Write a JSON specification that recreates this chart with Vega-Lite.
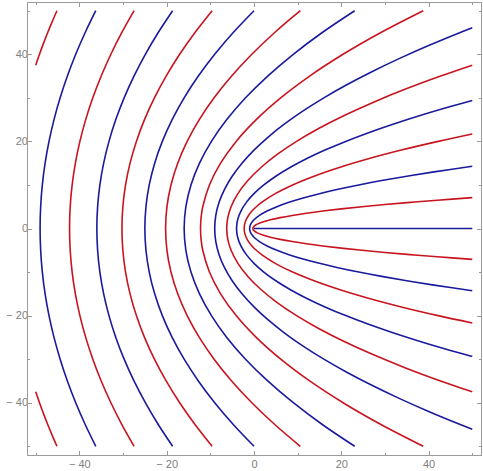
{
"$schema": "https://vega.github.io/schema/vega-lite/v6.json",
"width": 454, "height": 453,
"autosize": {"type": "none"},
"padding": {"left": 27, "top": 2, "right": 2, "bottom": 16},
"data": {"values": [
{"c":"b0","k":"b","x":0,"y":0},{"c":"b0","k":"b","x":50,"y":0},
{"c":"r05","k":"r","x":50,"y":-7.089},{"c":"r05","k":"r","x":42,"y":-6.5},{"c":"r05","k":"r","x":35.75,"y":-6},{"c":"r05","k":"r","x":30,"y":-5.5},{"c":"r05","k":"r","x":24.75,"y":-5},{"c":"r05","k":"r","x":20,"y":-4.5},{"c":"r05","k":"r","x":15.75,"y":-4},{"c":"r05","k":"r","x":12,"y":-3.5},{"c":"r05","k":"r","x":8.75,"y":-3},{"c":"r05","k":"r","x":6,"y":-2.5},{"c":"r05","k":"r","x":3.75,"y":-2},{"c":"r05","k":"r","x":2,"y":-1.5},{"c":"r05","k":"r","x":0.75,"y":-1},{"c":"r05","k":"r","x":0.3125,"y":-0.75},{"c":"r05","k":"r","x":0,"y":-0.5},{"c":"r05","k":"r","x":-0.1875,"y":-0.25},{"c":"r05","k":"r","x":-0.25,"y":0},{"c":"r05","k":"r","x":-0.1875,"y":0.25},{"c":"r05","k":"r","x":0,"y":0.5},{"c":"r05","k":"r","x":0.3125,"y":0.75},{"c":"r05","k":"r","x":0.75,"y":1},{"c":"r05","k":"r","x":2,"y":1.5},{"c":"r05","k":"r","x":3.75,"y":2},{"c":"r05","k":"r","x":6,"y":2.5},{"c":"r05","k":"r","x":8.75,"y":3},{"c":"r05","k":"r","x":12,"y":3.5},{"c":"r05","k":"r","x":15.75,"y":4},{"c":"r05","k":"r","x":20,"y":4.5},{"c":"r05","k":"r","x":24.75,"y":5},{"c":"r05","k":"r","x":30,"y":5.5},{"c":"r05","k":"r","x":35.75,"y":6},{"c":"r05","k":"r","x":42,"y":6.5},{"c":"r05","k":"r","x":50,"y":7.089},
{"c":"b1","k":"b","x":50,"y":-14.283},{"c":"b1","k":"b","x":41.25,"y":-13},{"c":"b1","k":"b","x":35,"y":-12},{"c":"b1","k":"b","x":29.25,"y":-11},{"c":"b1","k":"b","x":24,"y":-10},{"c":"b1","k":"b","x":19.25,"y":-9},{"c":"b1","k":"b","x":15,"y":-8},{"c":"b1","k":"b","x":11.25,"y":-7},{"c":"b1","k":"b","x":8,"y":-6},{"c":"b1","k":"b","x":5.25,"y":-5},{"c":"b1","k":"b","x":3,"y":-4},{"c":"b1","k":"b","x":1.25,"y":-3},{"c":"b1","k":"b","x":0,"y":-2},{"c":"b1","k":"b","x":-0.4375,"y":-1.5},{"c":"b1","k":"b","x":-0.75,"y":-1},{"c":"b1","k":"b","x":-0.9375,"y":-0.5},{"c":"b1","k":"b","x":-1,"y":0},{"c":"b1","k":"b","x":-0.9375,"y":0.5},{"c":"b1","k":"b","x":-0.75,"y":1},{"c":"b1","k":"b","x":-0.4375,"y":1.5},{"c":"b1","k":"b","x":0,"y":2},{"c":"b1","k":"b","x":1.25,"y":3},{"c":"b1","k":"b","x":3,"y":4},{"c":"b1","k":"b","x":5.25,"y":5},{"c":"b1","k":"b","x":8,"y":6},{"c":"b1","k":"b","x":11.25,"y":7},{"c":"b1","k":"b","x":15,"y":8},{"c":"b1","k":"b","x":19.25,"y":9},{"c":"b1","k":"b","x":24,"y":10},{"c":"b1","k":"b","x":29.25,"y":11},{"c":"b1","k":"b","x":35,"y":12},{"c":"b1","k":"b","x":41.25,"y":13},{"c":"b1","k":"b","x":50,"y":14.283},
{"c":"r15","k":"r","x":50,"y":-21.685},{"c":"r15","k":"r","x":42.194,"y":-20},{"c":"r15","k":"r","x":33.75,"y":-18},{"c":"r15","k":"r","x":26.194,"y":-16},{"c":"r15","k":"r","x":19.528,"y":-14},{"c":"r15","k":"r","x":13.75,"y":-12},{"c":"r15","k":"r","x":8.861,"y":-10},{"c":"r15","k":"r","x":4.861,"y":-8},{"c":"r15","k":"r","x":1.75,"y":-6},{"c":"r15","k":"r","x":0.528,"y":-5},{"c":"r15","k":"r","x":-0.472,"y":-4},{"c":"r15","k":"r","x":-1.25,"y":-3},{"c":"r15","k":"r","x":-1.806,"y":-2},{"c":"r15","k":"r","x":-2.139,"y":-1},{"c":"r15","k":"r","x":-2.25,"y":0},{"c":"r15","k":"r","x":-2.139,"y":1},{"c":"r15","k":"r","x":-1.806,"y":2},{"c":"r15","k":"r","x":-1.25,"y":3},{"c":"r15","k":"r","x":-0.472,"y":4},{"c":"r15","k":"r","x":0.528,"y":5},{"c":"r15","k":"r","x":1.75,"y":6},{"c":"r15","k":"r","x":4.861,"y":8},{"c":"r15","k":"r","x":8.861,"y":10},{"c":"r15","k":"r","x":13.75,"y":12},{"c":"r15","k":"r","x":19.528,"y":14},{"c":"r15","k":"r","x":26.194,"y":16},{"c":"r15","k":"r","x":33.75,"y":18},{"c":"r15","k":"r","x":42.194,"y":20},{"c":"r15","k":"r","x":50,"y":21.685},
{"c":"b2","k":"b","x":50,"y":-29.394},{"c":"b2","k":"b","x":45,"y":-28},{"c":"b2","k":"b","x":38.25,"y":-26},{"c":"b2","k":"b","x":32,"y":-24},{"c":"b2","k":"b","x":26.25,"y":-22},{"c":"b2","k":"b","x":21,"y":-20},{"c":"b2","k":"b","x":16.25,"y":-18},{"c":"b2","k":"b","x":12,"y":-16},{"c":"b2","k":"b","x":8.25,"y":-14},{"c":"b2","k":"b","x":5,"y":-12},{"c":"b2","k":"b","x":2.25,"y":-10},{"c":"b2","k":"b","x":0,"y":-8},{"c":"b2","k":"b","x":-1.75,"y":-6},{"c":"b2","k":"b","x":-3,"y":-4},{"c":"b2","k":"b","x":-3.75,"y":-2},{"c":"b2","k":"b","x":-4,"y":0},{"c":"b2","k":"b","x":-3.75,"y":2},{"c":"b2","k":"b","x":-3,"y":4},{"c":"b2","k":"b","x":-1.75,"y":6},{"c":"b2","k":"b","x":0,"y":8},{"c":"b2","k":"b","x":2.25,"y":10},{"c":"b2","k":"b","x":5,"y":12},{"c":"b2","k":"b","x":8.25,"y":14},{"c":"b2","k":"b","x":12,"y":16},{"c":"b2","k":"b","x":16.25,"y":18},{"c":"b2","k":"b","x":21,"y":20},{"c":"b2","k":"b","x":26.25,"y":22},{"c":"b2","k":"b","x":32,"y":24},{"c":"b2","k":"b","x":38.25,"y":26},{"c":"b2","k":"b","x":45,"y":28},{"c":"b2","k":"b","x":50,"y":29.394},
{"c":"r25","k":"r","x":50,"y":-37.5},{"c":"r25","k":"r","x":42.75,"y":-35},{"c":"r25","k":"r","x":34.71,"y":-32},{"c":"r25","k":"r","x":27.39,"y":-29},{"c":"r25","k":"r","x":20.79,"y":-26},{"c":"r25","k":"r","x":14.91,"y":-23},{"c":"r25","k":"r","x":9.75,"y":-20},{"c":"r25","k":"r","x":5.31,"y":-17},{"c":"r25","k":"r","x":1.59,"y":-14},{"c":"r25","k":"r","x":-1.41,"y":-11},{"c":"r25","k":"r","x":-3.69,"y":-8},{"c":"r25","k":"r","x":-5.25,"y":-5},{"c":"r25","k":"r","x":-6,"y":-2.5},{"c":"r25","k":"r","x":-6.25,"y":0},{"c":"r25","k":"r","x":-6,"y":2.5},{"c":"r25","k":"r","x":-5.25,"y":5},{"c":"r25","k":"r","x":-3.69,"y":8},{"c":"r25","k":"r","x":-1.41,"y":11},{"c":"r25","k":"r","x":1.59,"y":14},{"c":"r25","k":"r","x":5.31,"y":17},{"c":"r25","k":"r","x":9.75,"y":20},{"c":"r25","k":"r","x":14.91,"y":23},{"c":"r25","k":"r","x":20.79,"y":26},{"c":"r25","k":"r","x":27.39,"y":29},{"c":"r25","k":"r","x":34.71,"y":32},{"c":"r25","k":"r","x":42.75,"y":35},{"c":"r25","k":"r","x":50,"y":37.5},
{"c":"b3","k":"b","x":50,"y":-46.087},{"c":"b3","k":"b","x":47.25,"y":-45},{"c":"b3","k":"b","x":40,"y":-42},{"c":"b3","k":"b","x":33.25,"y":-39},{"c":"b3","k":"b","x":27,"y":-36},{"c":"b3","k":"b","x":21.25,"y":-33},{"c":"b3","k":"b","x":16,"y":-30},{"c":"b3","k":"b","x":11.25,"y":-27},{"c":"b3","k":"b","x":7,"y":-24},{"c":"b3","k":"b","x":3.25,"y":-21},{"c":"b3","k":"b","x":0,"y":-18},{"c":"b3","k":"b","x":-2.75,"y":-15},{"c":"b3","k":"b","x":-5,"y":-12},{"c":"b3","k":"b","x":-6.75,"y":-9},{"c":"b3","k":"b","x":-8,"y":-6},{"c":"b3","k":"b","x":-8.75,"y":-3},{"c":"b3","k":"b","x":-9,"y":0},{"c":"b3","k":"b","x":-8.75,"y":3},{"c":"b3","k":"b","x":-8,"y":6},{"c":"b3","k":"b","x":-6.75,"y":9},{"c":"b3","k":"b","x":-5,"y":12},{"c":"b3","k":"b","x":-2.75,"y":15},{"c":"b3","k":"b","x":0,"y":18},{"c":"b3","k":"b","x":3.25,"y":21},{"c":"b3","k":"b","x":7,"y":24},{"c":"b3","k":"b","x":11.25,"y":27},{"c":"b3","k":"b","x":16,"y":30},{"c":"b3","k":"b","x":21.25,"y":33},{"c":"b3","k":"b","x":27,"y":36},{"c":"b3","k":"b","x":33.25,"y":39},{"c":"b3","k":"b","x":40,"y":42},{"c":"b3","k":"b","x":47.25,"y":45},{"c":"b3","k":"b","x":50,"y":46.087},
{"c":"r35","k":"r","x":38.77,"y":-50},{"c":"r35","k":"r","x":29.077,"y":-45},{"c":"r35","k":"r","x":20.403,"y":-40},{"c":"r35","k":"r","x":12.75,"y":-35},{"c":"r35","k":"r","x":6.117,"y":-30},{"c":"r35","k":"r","x":0.505,"y":-25},{"c":"r35","k":"r","x":-4.087,"y":-20},{"c":"r35","k":"r","x":-7.658,"y":-15},{"c":"r35","k":"r","x":-10.209,"y":-10},{"c":"r35","k":"r","x":-11.74,"y":-5},{"c":"r35","k":"r","x":-12.122,"y":-2.5},{"c":"r35","k":"r","x":-12.25,"y":0},{"c":"r35","k":"r","x":-12.122,"y":2.5},{"c":"r35","k":"r","x":-11.74,"y":5},{"c":"r35","k":"r","x":-10.209,"y":10},{"c":"r35","k":"r","x":-7.658,"y":15},{"c":"r35","k":"r","x":-4.087,"y":20},{"c":"r35","k":"r","x":0.505,"y":25},{"c":"r35","k":"r","x":6.117,"y":30},{"c":"r35","k":"r","x":12.75,"y":35},{"c":"r35","k":"r","x":20.403,"y":40},{"c":"r35","k":"r","x":29.077,"y":45},{"c":"r35","k":"r","x":38.77,"y":50},
{"c":"b4","k":"b","x":23.063,"y":-50},{"c":"b4","k":"b","x":15.641,"y":-45},{"c":"b4","k":"b","x":9,"y":-40},{"c":"b4","k":"b","x":3.141,"y":-35},{"c":"b4","k":"b","x":-1.938,"y":-30},{"c":"b4","k":"b","x":-6.234,"y":-25},{"c":"b4","k":"b","x":-9.75,"y":-20},{"c":"b4","k":"b","x":-12.484,"y":-15},{"c":"b4","k":"b","x":-14.438,"y":-10},{"c":"b4","k":"b","x":-15.609,"y":-5},{"c":"b4","k":"b","x":-16,"y":0},{"c":"b4","k":"b","x":-15.609,"y":5},{"c":"b4","k":"b","x":-14.438,"y":10},{"c":"b4","k":"b","x":-12.484,"y":15},{"c":"b4","k":"b","x":-9.75,"y":20},{"c":"b4","k":"b","x":-6.234,"y":25},{"c":"b4","k":"b","x":-1.938,"y":30},{"c":"b4","k":"b","x":3.141,"y":35},{"c":"b4","k":"b","x":9,"y":40},{"c":"b4","k":"b","x":15.641,"y":45},{"c":"b4","k":"b","x":23.063,"y":50},
{"c":"r45","k":"r","x":10.614,"y":-50},{"c":"r45","k":"r","x":4.75,"y":-45},{"c":"r45","k":"r","x":-0.497,"y":-40},{"c":"r45","k":"r","x":-5.127,"y":-35},{"c":"r45","k":"r","x":-9.139,"y":-30},{"c":"r45","k":"r","x":-12.534,"y":-25},{"c":"r45","k":"r","x":-15.312,"y":-20},{"c":"r45","k":"r","x":-17.472,"y":-15},{"c":"r45","k":"r","x":-19.015,"y":-10},{"c":"r45","k":"r","x":-19.941,"y":-5},{"c":"r45","k":"r","x":-20.25,"y":0},{"c":"r45","k":"r","x":-19.941,"y":5},{"c":"r45","k":"r","x":-19.015,"y":10},{"c":"r45","k":"r","x":-17.472,"y":15},{"c":"r45","k":"r","x":-15.312,"y":20},{"c":"r45","k":"r","x":-12.534,"y":25},{"c":"r45","k":"r","x":-9.139,"y":30},{"c":"r45","k":"r","x":-5.127,"y":35},{"c":"r45","k":"r","x":-0.497,"y":40},{"c":"r45","k":"r","x":4.75,"y":45},{"c":"r45","k":"r","x":10.614,"y":50},
{"c":"b5","k":"b","x":0,"y":-50},{"c":"b5","k":"b","x":-4.75,"y":-45},{"c":"b5","k":"b","x":-9,"y":-40},{"c":"b5","k":"b","x":-12.75,"y":-35},{"c":"b5","k":"b","x":-16,"y":-30},{"c":"b5","k":"b","x":-18.75,"y":-25},{"c":"b5","k":"b","x":-21,"y":-20},{"c":"b5","k":"b","x":-22.75,"y":-15},{"c":"b5","k":"b","x":-24,"y":-10},{"c":"b5","k":"b","x":-24.75,"y":-5},{"c":"b5","k":"b","x":-25,"y":0},{"c":"b5","k":"b","x":-24.75,"y":5},{"c":"b5","k":"b","x":-24,"y":10},{"c":"b5","k":"b","x":-22.75,"y":15},{"c":"b5","k":"b","x":-21,"y":20},{"c":"b5","k":"b","x":-18.75,"y":25},{"c":"b5","k":"b","x":-16,"y":30},{"c":"b5","k":"b","x":-12.75,"y":35},{"c":"b5","k":"b","x":-9,"y":40},{"c":"b5","k":"b","x":-4.75,"y":45},{"c":"b5","k":"b","x":0,"y":50},
{"c":"r55","k":"r","x":-9.589,"y":-50},{"c":"r55","k":"r","x":-13.514,"y":-45},{"c":"r55","k":"r","x":-17.027,"y":-40},{"c":"r55","k":"r","x":-20.126,"y":-35},{"c":"r55","k":"r","x":-22.812,"y":-30},{"c":"r55","k":"r","x":-25.085,"y":-25},{"c":"r55","k":"r","x":-26.944,"y":-20},{"c":"r55","k":"r","x":-28.39,"y":-15},{"c":"r55","k":"r","x":-29.424,"y":-10},{"c":"r55","k":"r","x":-30.043,"y":-5},{"c":"r55","k":"r","x":-30.25,"y":0},{"c":"r55","k":"r","x":-30.043,"y":5},{"c":"r55","k":"r","x":-29.424,"y":10},{"c":"r55","k":"r","x":-28.39,"y":15},{"c":"r55","k":"r","x":-26.944,"y":20},{"c":"r55","k":"r","x":-25.085,"y":25},{"c":"r55","k":"r","x":-22.812,"y":30},{"c":"r55","k":"r","x":-20.126,"y":35},{"c":"r55","k":"r","x":-17.027,"y":40},{"c":"r55","k":"r","x":-13.514,"y":45},{"c":"r55","k":"r","x":-9.589,"y":50},
{"c":"b6","k":"b","x":-18.639,"y":-50},{"c":"b6","k":"b","x":-21.938,"y":-45},{"c":"b6","k":"b","x":-24.889,"y":-40},{"c":"b6","k":"b","x":-27.493,"y":-35},{"c":"b6","k":"b","x":-29.75,"y":-30},{"c":"b6","k":"b","x":-31.66,"y":-25},{"c":"b6","k":"b","x":-33.222,"y":-20},{"c":"b6","k":"b","x":-34.438,"y":-15},{"c":"b6","k":"b","x":-35.306,"y":-10},{"c":"b6","k":"b","x":-35.826,"y":-5},{"c":"b6","k":"b","x":-36,"y":0},{"c":"b6","k":"b","x":-35.826,"y":5},{"c":"b6","k":"b","x":-35.306,"y":10},{"c":"b6","k":"b","x":-34.438,"y":15},{"c":"b6","k":"b","x":-33.222,"y":20},{"c":"b6","k":"b","x":-31.66,"y":25},{"c":"b6","k":"b","x":-29.75,"y":30},{"c":"b6","k":"b","x":-27.493,"y":35},{"c":"b6","k":"b","x":-24.889,"y":40},{"c":"b6","k":"b","x":-21.938,"y":45},{"c":"b6","k":"b","x":-18.639,"y":50},
{"c":"r65","k":"r","x":-27.457,"y":-50},{"c":"r65","k":"r","x":-30.268,"y":-45},{"c":"r65","k":"r","x":-32.783,"y":-40},{"c":"r65","k":"r","x":-35.001,"y":-35},{"c":"r65","k":"r","x":-36.925,"y":-30},{"c":"r65","k":"r","x":-38.552,"y":-25},{"c":"r65","k":"r","x":-39.883,"y":-20},{"c":"r65","k":"r","x":-40.919,"y":-15},{"c":"r65","k":"r","x":-41.658,"y":-10},{"c":"r65","k":"r","x":-42.102,"y":-5},{"c":"r65","k":"r","x":-42.25,"y":0},{"c":"r65","k":"r","x":-42.102,"y":5},{"c":"r65","k":"r","x":-41.658,"y":10},{"c":"r65","k":"r","x":-40.919,"y":15},{"c":"r65","k":"r","x":-39.883,"y":20},{"c":"r65","k":"r","x":-38.552,"y":25},{"c":"r65","k":"r","x":-36.925,"y":30},{"c":"r65","k":"r","x":-35.001,"y":35},{"c":"r65","k":"r","x":-32.783,"y":40},{"c":"r65","k":"r","x":-30.268,"y":45},{"c":"r65","k":"r","x":-27.457,"y":50},
{"c":"b7","k":"b","x":-36.245,"y":-50},{"c":"b7","k":"b","x":-38.668,"y":-45},{"c":"b7","k":"b","x":-40.837,"y":-40},{"c":"b7","k":"b","x":-42.75,"y":-35},{"c":"b7","k":"b","x":-44.408,"y":-30},{"c":"b7","k":"b","x":-45.811,"y":-25},{"c":"b7","k":"b","x":-46.959,"y":-20},{"c":"b7","k":"b","x":-47.852,"y":-15},{"c":"b7","k":"b","x":-48.49,"y":-10},{"c":"b7","k":"b","x":-48.872,"y":-5},{"c":"b7","k":"b","x":-49,"y":0},{"c":"b7","k":"b","x":-48.872,"y":5},{"c":"b7","k":"b","x":-48.49,"y":10},{"c":"b7","k":"b","x":-47.852,"y":15},{"c":"b7","k":"b","x":-46.959,"y":20},{"c":"b7","k":"b","x":-45.811,"y":25},{"c":"b7","k":"b","x":-44.408,"y":30},{"c":"b7","k":"b","x":-42.75,"y":35},{"c":"b7","k":"b","x":-40.837,"y":40},{"c":"b7","k":"b","x":-38.668,"y":45},{"c":"b7","k":"b","x":-36.245,"y":50},
{"c":"r75t","k":"r","x":-50,"y":37.5},{"c":"r75t","k":"r","x":-49.139,"y":40},{"c":"r75t","k":"r","x":-48.222,"y":42.5},{"c":"r75t","k":"r","x":-47.25,"y":45},{"c":"r75t","k":"r","x":-46.222,"y":47.5},{"c":"r75t","k":"r","x":-45.139,"y":50},
{"c":"r75b","k":"r","x":-45.139,"y":-50},{"c":"r75b","k":"r","x":-46.222,"y":-47.5},{"c":"r75b","k":"r","x":-47.25,"y":-45},{"c":"r75b","k":"r","x":-48.222,"y":-42.5},{"c":"r75b","k":"r","x":-49.139,"y":-40},{"c":"r75b","k":"r","x":-50,"y":-37.5}
]},
"config": {
  "view": {"stroke": "#9a9a9a", "strokeWidth": 1},
  "axis": {
    "values": [-50,-45,-40,-35,-30,-25,-20,-15,-10,-5,0,5,10,15,20,25,30,35,40,45,50],
    "title": null, "grid": false,
    "domainColor": "#9a9a9a", "tickColor": "#9a9a9a",
    "tickSize": {"condition": {"test": "datum.value % 20 === 0", "value": -4.5}, "value": -2.5},
    "labelColor": "#808080", "labelFontSize": 11, "labelFont": "Liberation Sans",
    "labelExpr": "datum.value % 20 === 0 ? (datum.value < 0 ? '\u2212 ' + abs(datum.value) : '' + datum.value) : ''",
    "labelPadding": 4
  },
  "axisBottom": {"labelPadding": 8}
},
"layer": [
  {
    "mark": {"type": "line", "clip": true, "strokeWidth": 1.6, "interpolate": "catmull-rom"},
    "encoding": {
      "x": {"field": "x", "type": "quantitative", "scale": {"domain": [-52, 52], "nice": false, "zero": false}, "axis": {"orient": "bottom"}},
      "y": {"field": "y", "type": "quantitative", "scale": {"domain": [-52, 52], "nice": false, "zero": false}, "axis": {"orient": "left"}},
      "color": {"field": "k", "type": "nominal", "scale": {"domain": ["r", "b"], "range": ["#c8141e", "#1a1a9c"]}, "legend": null},
      "detail": {"field": "c"},
      "order": {"field": "y", "type": "quantitative"}
    }
  },
  {
    "mark": {"type": "point", "opacity": 0},
    "encoding": {
      "x": {"field": "x", "type": "quantitative", "axis": {"orient": "top", "labels": false}},
      "y": {"field": "y", "type": "quantitative", "axis": {"orient": "right", "labels": false}}
    }
  }
],
"resolve": {"axis": {"x": "independent", "y": "independent"}}
}
